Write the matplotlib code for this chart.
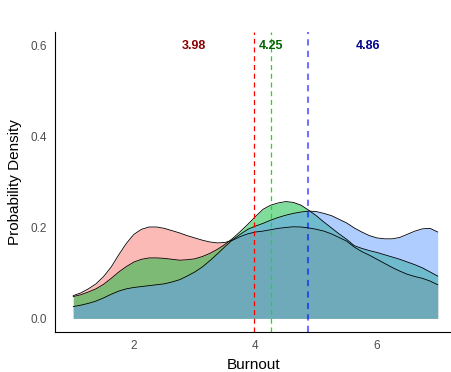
import numpy as np
import matplotlib.pyplot as plt

plt.rcParams['font.family'] = ['Liberation Sans', 'DejaVu Sans']

# density estimates of burnout per group, read on a 0.125 grid from 1 to 7
burnout = np.arange(1.0, 7.0001, 0.125)
dens_red = [0.050, 0.056, 0.065, 0.076, 0.092, 0.113, 0.140, 0.165, 0.185, 0.196,
            0.201, 0.201, 0.198, 0.193, 0.188, 0.182, 0.177, 0.172, 0.168, 0.166,
            0.167, 0.172, 0.180, 0.186, 0.190, 0.192, 0.195, 0.198, 0.200, 0.2015,
            0.201, 0.199, 0.196, 0.192, 0.186, 0.178, 0.170, 0.157, 0.147, 0.139,
            0.130, 0.121, 0.112, 0.104, 0.097, 0.092, 0.088, 0.082, 0.074]
dens_green = [0.048, 0.052, 0.058, 0.065, 0.075, 0.088, 0.102, 0.114, 0.124, 0.130,
              0.133, 0.133, 0.132, 0.130, 0.128, 0.129, 0.131, 0.136, 0.143, 0.152,
              0.163, 0.176, 0.191, 0.207, 0.224, 0.240, 0.249, 0.254, 0.257, 0.255,
              0.249, 0.238, 0.226, 0.212, 0.199, 0.186, 0.174, 0.160, 0.154, 0.149,
              0.145, 0.140, 0.135, 0.130, 0.124, 0.118, 0.111, 0.102, 0.093]
dens_blue = [0.026, 0.029, 0.033, 0.038, 0.045, 0.053, 0.060, 0.065, 0.068, 0.070,
             0.072, 0.074, 0.076, 0.080, 0.085, 0.093, 0.102, 0.113, 0.127, 0.142,
             0.158, 0.173, 0.185, 0.196, 0.203, 0.209, 0.216, 0.222, 0.227, 0.231,
             0.234, 0.236, 0.235, 0.231, 0.226, 0.218, 0.210, 0.199, 0.190, 0.182,
             0.177, 0.175, 0.175, 0.178, 0.185, 0.192, 0.197, 0.198, 0.190]

means = [3.98, 4.25, 4.86]
mean_labels = ['3.98', '4.25', '4.86']
label_offsets = [-1, 0, 1]

fills = ['#F8766D', '#00BA38', '#619CFF']
text_colors = ['#8B0000', '#006400', '#00008B']

fig = plt.figure(figsize=(4.52, 3.72), dpi=100)
ax = fig.add_axes([55 / 452, 40 / 372, 397 / 452, 300 / 372])

for d, c in zip([dens_red, dens_green, dens_blue], fills):
    ax.fill_between(burnout, 0, d, color=c, alpha=0.5, linewidth=0)
    ax.plot(burnout, d, color='black', lw=0.6)

# mean lines
ax.axvline(means[0], color='red', lw=0.9, ls=(0, (4, 3)))
ax.axvline(means[1], color='#00ee00', lw=0.9, ls=(0, (4, 3)))
ax.axvline(means[2], color='blue', lw=1.5, alpha=0.55, ls=(0, (3, 2.5)))

for m, lab, off, tc in zip(means, mean_labels, label_offsets, text_colors):
    ax.text(m + off, 0.6, lab, color=tc, fontsize=9, fontweight='bold',
            ha='center', va='center')

ax.set_xlim(0.7, 7.235)
ax.set_ylim(-0.03, 0.63)
ax.set_xticks([2, 4, 6])
ax.set_yticks([0.0, 0.2, 0.4, 0.6])
ax.set_yticklabels(['0.0', '0.2', '0.4', '0.6'])
ax.tick_params(length=0, labelsize=8.5, labelcolor='#4D4D4D', pad=6)

for s in ['top', 'right']:
    ax.spines[s].set_visible(False)
for s in ['left', 'bottom']:
    ax.spines[s].set_color('black')
    ax.spines[s].set_linewidth(0.8)

ax.set_xlabel('Burnout', fontsize=11, labelpad=4)
ax.set_ylabel('Probability Density', fontsize=11, labelpad=6)

fig.savefig('out.png', dpi=100)
